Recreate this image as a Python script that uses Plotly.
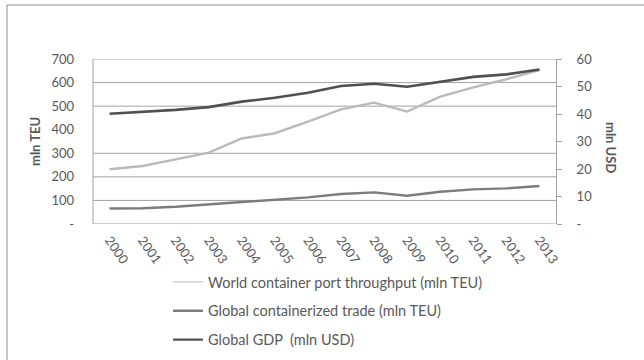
import plotly.graph_objects as go

# Years on the category axis
years = ["2000", "2001", "2002", "2003", "2004", "2005", "2006",
         "2007", "2008", "2009", "2010", "2011", "2012", "2013"]

# World container port throughput, mln TEU (left axis)
port_throughput = [232, 246, 274, 303, 363, 385, 434, 486, 515, 477, 540, 580, 614, 653]

# Global containerized trade, mln TEU (left axis)
container_trade = [66, 67, 73, 83, 95, 102, 113, 127, 134, 120, 137, 147, 151, 161]

# Global GDP, mln USD (right axis)
global_gdp = [40.1, 40.8, 41.5, 42.5, 44.5, 45.9, 47.7, 50.2, 51.0, 49.9, 51.7, 53.5, 54.4, 56.2]

series_names = ["World container port throughput (mln TEU)",
                "Global containerized trade (mln TEU)",
                "Global GDP  (mln USD)"]

# Axis ticks
left_ticks = [0, 100, 200, 300, 400, 500, 600, 700]
left_ticktext = ["-", "100", "200", "300", "400", "500", "600", "700"]
right_ticks = [0, 10, 20, 30, 40, 50, 60]
right_ticktext = ["-", "10", "20", "30", "40", "50", "60"]
grid_levels = [0, 100, 200, 300, 500, 600, 700]

FONT = "Lato, 'Open Sans', sans-serif"
TXT = "#595959"
GRID = "#a3a3a3"
COLORS = ["#bababa", "#7c7c7c", "#505050"]

W, H = 644, 360
L, R, T, B = 93, 88, 59, 136
pw, ph = W - L - R, H - T - B


def px_x(x):
    return (x - L) / pw


def px_y(y):
    return (H - B - y) / ph


fig = go.Figure()

# data lines
fig.add_trace(go.Scatter(x=years, y=port_throughput, mode="lines", name=series_names[0],
                         line=dict(color=COLORS[0], width=2.4), showlegend=False, yaxis="y"))
fig.add_trace(go.Scatter(x=years, y=container_trade, mode="lines", name=series_names[1],
                         line=dict(color=COLORS[1], width=2.4), showlegend=False, yaxis="y"))
fig.add_trace(go.Scatter(x=years, y=global_gdp, mode="lines", name=series_names[2],
                         line=dict(color=COLORS[2], width=2.6), showlegend=False, yaxis="y2"))

# legend keys
legend_widths = [1, 2.5, 2.2]
for i, (nm, col, lw) in enumerate(zip(series_names, COLORS, legend_widths)):
    fig.add_trace(go.Scatter(x=[None], y=[None], mode="lines", name=nm,
                             line=dict(color=col, width=lw),
                             legendgroup=f"g{i}", showlegend=True))

shapes = []
for g in grid_levels:
    shapes.append(dict(type="line", xref="paper", yref="y", x0=0, x1=1, y0=g, y1=g,
                       line=dict(color=GRID, width=1), layer="below"))
# left edge of plot area
shapes.append(dict(type="line", xref="paper", yref="paper", x0=0, x1=0, y0=0, y1=1,
                   line=dict(color=GRID, width=1), layer="below"))
# outer chart frame
shapes.append(dict(type="rect", xref="paper", yref="paper",
                   x0=px_x(7), x1=px_x(W + 10), y0=px_y(H + 10), y1=px_y(5),
                   line=dict(color="#8c8c8c", width=1), fillcolor="rgba(0,0,0,0)"))

fig.update_layout(
    width=W, height=H,
    margin=dict(l=L, r=R, t=T, b=B, autoexpand=False),
    paper_bgcolor="white", plot_bgcolor="white",
    font=dict(family=FONT, size=13, color=TXT),
    showlegend=True,
    legend=dict(x=px_x(168), y=px_y(266), xanchor="left", yanchor="top",
                font=dict(size=14.5, color=TXT), tracegroupgap=7,
                bgcolor="rgba(0,0,0,0)", itemwidth=30),
    xaxis=dict(type="category", range=[-0.5, 13.5], tickangle=55, automargin=False,
               showgrid=False, zeroline=False, showline=False, ticks="",
               ticklabelstandoff=5, tickfont=dict(size=13, color=TXT)),
    yaxis=dict(range=[0, 700], tickvals=left_ticks, ticktext=left_ticktext, automargin=False,
               showgrid=False, zeroline=False, showline=False, ticks="",
               ticklabelstandoff=18, tickfont=dict(size=13, color=TXT)),
    yaxis2=dict(range=[0, 60], tickvals=right_ticks, ticktext=right_ticktext,
                overlaying="y", side="right", showgrid=False, zeroline=False, automargin=False,
                showline=True, linecolor=GRID, linewidth=1,
                ticks="outside", ticklen=5, tickcolor=GRID,
                tickfont=dict(size=13, color=TXT), ticklabelstandoff=12),
    shapes=shapes,
    annotations=[
        dict(text="<b>mln TEU</b>", xref="paper", yref="paper",
             x=px_x(35), y=px_y(142), xanchor="center", yanchor="middle",
             textangle=-90, showarrow=False, font=dict(size=13, color=TXT)),
        dict(text="<b>mln USD</b>", xref="paper", yref="paper",
             x=px_x(611), y=px_y(147), xanchor="center", yanchor="middle",
             textangle=90, showarrow=False, font=dict(size=13, color=TXT)),
    ],
)

fig.write_html("out.html")
